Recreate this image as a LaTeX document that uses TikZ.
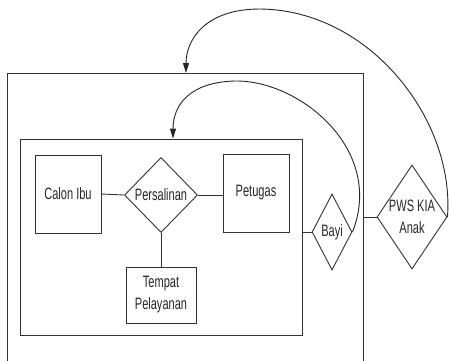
\documentclass[tikz,border=0pt]{standalone}
\usepackage{fontspec}
\newfontfamily\diagfont[FakeStretch=0.67]{Liberation Sans}
\usetikzlibrary{shapes.geometric,arrows.meta}
\begin{document}
\begin{tikzpicture}[x=1pt,y=-1pt,
  line width=0.9pt,
  every node/.style={font=\diagfont\fontsize{16.5}{22}\selectfont, text=black!85},
  frame/.style={draw=black!80, line width=0.9pt, inner sep=0pt},
  entity/.style={frame, rectangle, align=center},
  relation/.style={frame, diamond},
  link/.style={draw=black!80, line width=0.9pt},
  feedback/.style={draw=black!85, line width=0.9pt, -{Triangle[length=10pt,width=6pt]}}]
  \useasboundingbox (0,0) rectangle (449,360);
  \clip (0,0) rectangle (449,360);

  % outer frame, open towards the bottom
  \node[frame, rectangle, minimum width=356pt, minimum height=320pt] (outer) at (185,233) {};
  % inner frame
  \node[frame, rectangle, minimum width=282pt, minimum height=196pt] (inner) at (161,237) {};

  % entities
  \node[entity, minimum width=66pt, minimum height=78pt] (ibu) at (68,194) {Calon Ibu};
  \node[entity, minimum width=66pt, minimum height=78pt] (petugas) at (256,193) {Petugas};
  \node[entity, minimum width=70pt, minimum height=56pt] (tempat) at (161,295) {Tempat\\Pelayanan};

  % relationships
  \node[relation, minimum width=73pt, minimum height=75pt, label=center:{Persalinan}] (persalinan) at (161,195) {};
  \node[relation, minimum width=40pt, minimum height=76pt, label=center:{Bayi}] (bayi) at (332,232) {};
  \node[relation, minimum width=70pt, minimum height=104pt,
        label={[align=center]center:{PWS KIA\\Anak}}] (pws) at (412,217) {};

  % connections
  \draw[link] (ibu.east) -- (persalinan.west);
  \draw[link] (persalinan.east) -- (petugas.west |- persalinan.east);
  \draw[link] (persalinan.south) -- (tempat.north);
  \draw[link] (inner.east |- bayi.west) -- (bayi.west);
  \draw[link] (outer.east |- pws.west) -- (pws.west);

  % feedback arcs
  \coordinate (innertop) at ([xshift=12pt]inner.north);
  \coordinate (outertop) at (186,73);
  \draw[feedback] (bayi.east) .. controls (385,150) and (300,80) .. (235,81)
        .. controls (190,82) and (173,105) .. (innertop);
  \draw[feedback] (pws.east) .. controls (455,120) and (370,10) .. (260,9)
        .. controls (205,9) and (186,40) .. (outertop);
\end{tikzpicture}
\end{document}
